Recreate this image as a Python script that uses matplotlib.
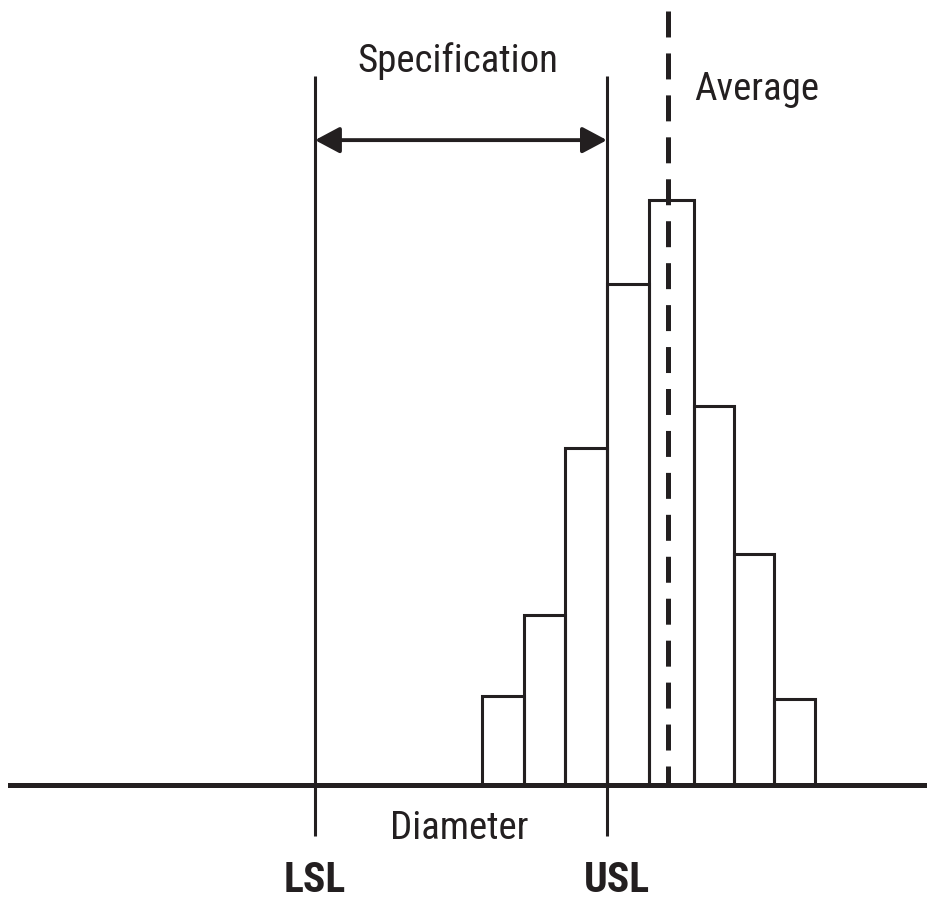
import matplotlib
matplotlib.use("Agg")
import matplotlib.pyplot as plt
from matplotlib.patches import FancyArrowPatch, ArrowStyle

plt.rcParams['lines.scale_dashes'] = False

# Histogram of measured diameters (bin edges in diameter units, counts per bin)
bin_edges = [4.0, 5.0, 6.0, 7.0, 8.0, 9.1, 10.05, 11.0, 12.0]
counts = [3.2, 6.1, 12.1, 18.0, 21.0, 13.6, 8.3, 3.1]

# Specification limits and process average
lsl = 0.0
usl = 7.0
average = 8.46

labels = {"spec": "Specification", "avg": "Average", "axis": "Diameter",
          "lsl": "LSL", "usl": "USL"}

ink = "#231f20"
family = ["Roboto Condensed", "Liberation Sans", "DejaVu Sans"]

fig = plt.figure(figsize=(9.27, 9.02), dpi=100)
ax = fig.add_axes([0, 0, 1, 1])
ax.set_xlim(-7.554, 14.676)
ax.set_ylim(-4.2, 28.18)
ax.axis("off")

# Histogram bars
widths = [b - a for a, b in zip(bin_edges[:-1], bin_edges[1:])]
ax.bar(bin_edges[:-1], counts, width=widths, align="edge", fill=False,
       edgecolor=ink, linewidth=2.2, zorder=2)

# Horizontal axis line
ax.axhline(0, xmin=10 / 927, xmax=925 / 927, color=ink, linewidth=3.6, zorder=3)

# Specification limit lines
for lim in (lsl, usl):
    ax.plot([lim, lim], [25.45, -1.83], color=ink, linewidth=2.2, zorder=3,
            solid_capstyle="butt")

# Average line (dashed), drawn top to bottom
ax.plot([average, average], [27.8, 0], color=ink, linewidth=3.6,
        dashes=(18.7, 11.5), dash_capstyle="butt", zorder=4)

# Specification width arrow
arrow = FancyArrowPatch((lsl, 23.15), (usl, 23.15),
                        arrowstyle=ArrowStyle("<|-|>", head_length=1.5, head_width=0.8),
                        mutation_scale=10, shrinkA=0, shrinkB=0,
                        color=ink, linewidth=2.8, zorder=3)
ax.add_patch(arrow)

fs = 28
fs_bold = 30
ax.text((lsl + usl) / 2 - 0.07, 25.59, labels["spec"], ha="center", va="baseline",
        fontsize=fs, family=family, color=ink)
ax.text(9.09, 24.59, labels["avg"], ha="left", va="baseline",
        fontsize=fs, family=family, color=ink)
ax.text(3.45, -1.94, labels["axis"], ha="center", va="baseline",
        fontsize=fs, family=family, color=ink)
ax.text(lsl, -3.83, labels["lsl"], ha="center", va="baseline",
        fontsize=fs_bold, family=family, fontweight="bold", color=ink)
ax.text(usl + 0.25, -3.83, labels["usl"], ha="center", va="baseline",
        fontsize=fs_bold, family=family, fontweight="bold", color=ink)

fig.savefig("out.png", dpi=100, facecolor="white")
